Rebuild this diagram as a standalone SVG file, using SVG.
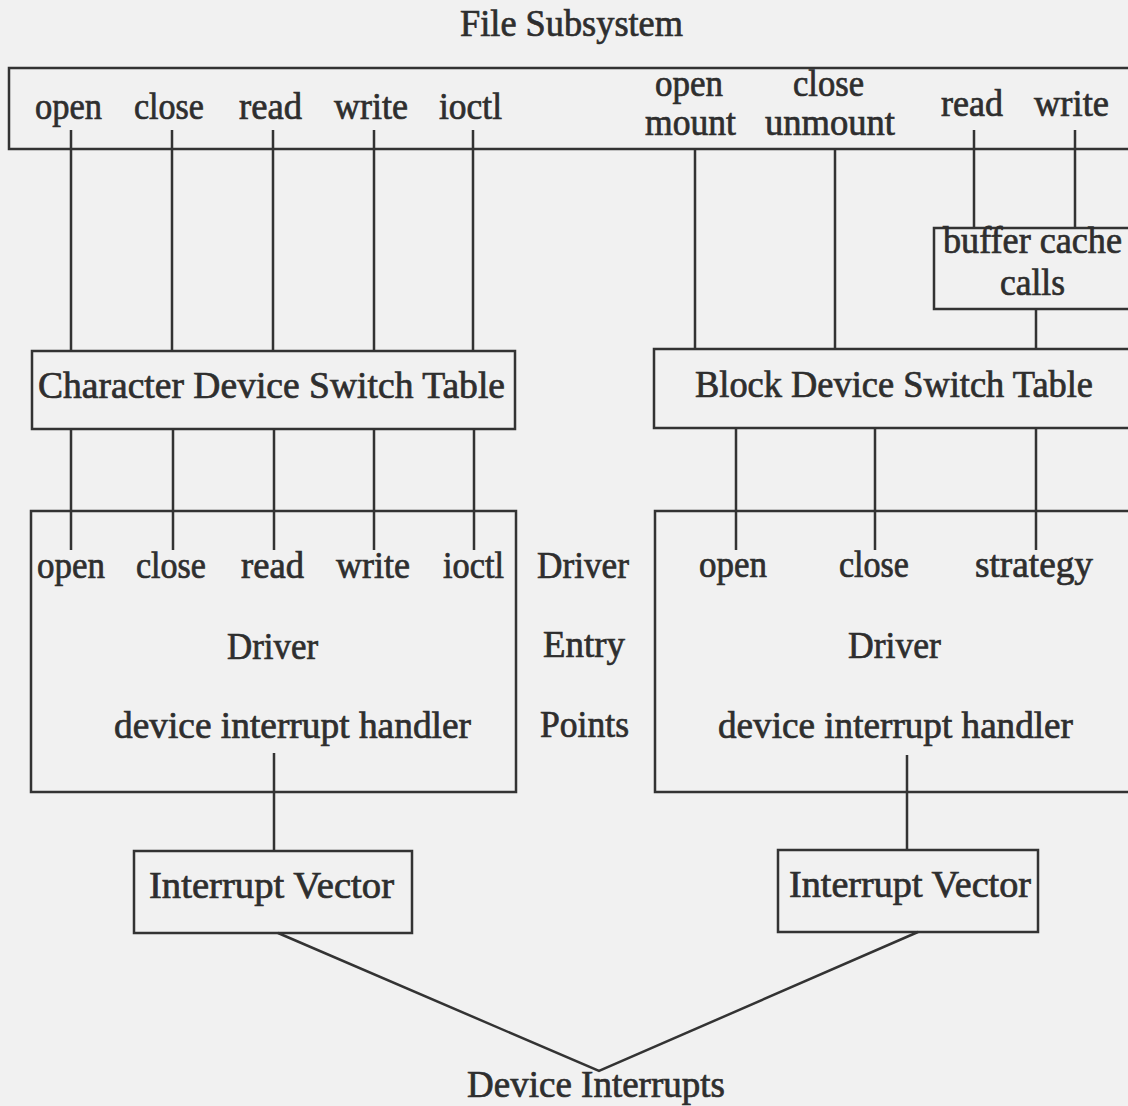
<svg xmlns="http://www.w3.org/2000/svg" width="1128" height="1106" viewBox="0 0 1128 1106">
<style>
.bx{fill:none;stroke:#333;stroke-width:2.5}
.ln{fill:none;stroke:#333;stroke-width:2.5}
text{font-family:"Liberation Serif","Times New Roman",serif;font-size:37px;fill:#2e2e2e;stroke:#2e2e2e;stroke-width:0.7}
</style>
<rect x="0" y="0" width="1128" height="1106" fill="#f1f1f1"/>
<g id="title"><text x="460" y="36" textLength="223" lengthAdjust="spacingAndGlyphs">File Subsystem</text></g>
<g id="file-subsystem">
<rect class="bx" x="9" y="68" width="1140" height="81"/>
<text x="35" y="119" textLength="67" lengthAdjust="spacingAndGlyphs">open</text>
<text x="134" y="119" textLength="70" lengthAdjust="spacingAndGlyphs">close</text>
<text x="239" y="119" textLength="63" lengthAdjust="spacingAndGlyphs">read</text>
<text x="334" y="119" textLength="74" lengthAdjust="spacingAndGlyphs">write</text>
<text x="439" y="119" textLength="63" lengthAdjust="spacingAndGlyphs">ioctl</text>
<text x="655" y="96" textLength="68" lengthAdjust="spacingAndGlyphs">open</text>
<text x="793" y="96" textLength="71" lengthAdjust="spacingAndGlyphs">close</text>
<text x="645" y="135" textLength="91" lengthAdjust="spacingAndGlyphs">mount</text>
<text x="765" y="135" textLength="130" lengthAdjust="spacingAndGlyphs">unmount</text>
<text x="941" y="116" textLength="62" lengthAdjust="spacingAndGlyphs">read</text>
<text x="1034" y="116" textLength="75" lengthAdjust="spacingAndGlyphs">write</text>
</g>
<g id="buffer-cache">
<rect class="bx" x="934" y="228" width="210" height="81"/>
<text x="943" y="253" textLength="179" lengthAdjust="spacingAndGlyphs">buffer cache</text>
<text x="1000" y="295" textLength="65" lengthAdjust="spacingAndGlyphs">calls</text>
</g>
<g id="char-switch">
<rect class="bx" x="32" y="351" width="483" height="78"/>
<text x="38" y="398" textLength="467" lengthAdjust="spacingAndGlyphs">Character Device Switch Table</text>
</g>
<g id="block-switch">
<rect class="bx" x="654" y="349" width="490" height="79"/>
<text x="695" y="397" textLength="398" lengthAdjust="spacingAndGlyphs">Block Device Switch Table</text>
</g>
<g id="char-driver">
<rect class="bx" x="31" y="511" width="485" height="281"/>
<text x="37" y="578" textLength="68" lengthAdjust="spacingAndGlyphs">open</text>
<text x="136" y="578" textLength="70" lengthAdjust="spacingAndGlyphs">close</text>
<text x="241" y="578" textLength="63" lengthAdjust="spacingAndGlyphs">read</text>
<text x="336" y="578" textLength="74" lengthAdjust="spacingAndGlyphs">write</text>
<text x="443" y="578" textLength="61" lengthAdjust="spacingAndGlyphs">ioctl</text>
<text x="227" y="659" textLength="91" lengthAdjust="spacingAndGlyphs">Driver</text>
<text x="114" y="738" textLength="357" lengthAdjust="spacingAndGlyphs">device interrupt handler</text>
</g>
<g id="entry-points">
<text x="537" y="578" textLength="92" lengthAdjust="spacingAndGlyphs">Driver</text>
<text x="543" y="657" textLength="82" lengthAdjust="spacingAndGlyphs">Entry</text>
<text x="540" y="737" textLength="89" lengthAdjust="spacingAndGlyphs">Points</text>
</g>
<g id="block-driver">
<rect class="bx" x="655" y="511" width="490" height="281"/>
<text x="699" y="577" textLength="68" lengthAdjust="spacingAndGlyphs">open</text>
<text x="839" y="577" textLength="70" lengthAdjust="spacingAndGlyphs">close</text>
<text x="975" y="577" textLength="118" lengthAdjust="spacingAndGlyphs">strategy</text>
<text x="848" y="658" textLength="93" lengthAdjust="spacingAndGlyphs">Driver</text>
<text x="718" y="738" textLength="355" lengthAdjust="spacingAndGlyphs">device interrupt handler</text>
</g>
<g id="char-vector">
<rect class="bx" x="134" y="851" width="278" height="82"/>
<text x="149" y="898" textLength="245" lengthAdjust="spacingAndGlyphs">Interrupt Vector</text>
</g>
<g id="block-vector">
<rect class="bx" x="778" y="850" width="260" height="82"/>
<text x="789" y="897" textLength="242" lengthAdjust="spacingAndGlyphs">Interrupt Vector</text>
</g>
<g id="device-interrupts">
<text x="467" y="1097" textLength="258" lengthAdjust="spacingAndGlyphs">Device Interrupts</text>
</g>
<g id="connectors">
<path class="ln" d="M71 130V351M172 130V351M273 130V351M374 130V351M473 130V351"/>
<path class="ln" d="M71 429V550M173 429V550M274 429V550M374 429V550M474 429V550"/>
<path class="ln" d="M695 149V349M835 149V349"/>
<path class="ln" d="M974 130V228M1075 130V228M1036 309V349"/>
<path class="ln" d="M736 428V550M875 428V550M1036 428V550"/>
<path class="ln" d="M274 753V851M907 755V850"/>
<path class="ln" d="M278 933L599 1071L918 932"/>
</g>
</svg>
